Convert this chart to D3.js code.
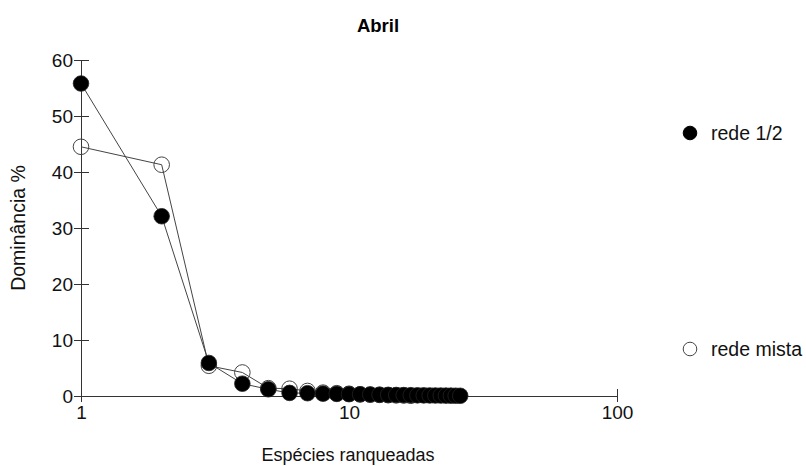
<!DOCTYPE html>
<html><head><meta charset="utf-8">
<script src="https://cdn.jsdelivr.net/npm/d3@7"></script>
<style>body{margin:0;background:#fff}svg{display:block;font-family:"Liberation Sans",Arial,sans-serif}</style>
</head><body>
<svg id="c" width="806" height="466"></svg>
<script>
const title = "Abril";
const xLabel = "Espécies ranqueadas";
const yLabel = "Dominância %";
const seriesNames = ["rede 1/2", "rede mista"];
const rede12 = [55.8, 32.1, 5.9, 2.2, 1.2, 0.55, 0.5, 0.42, 0.38, 0.33, 0.3, 0.26, 0.23, 0.2, 0.18, 0.16, 0.14, 0.12, 0.11, 0.1, 0.09, 0.08, 0.07, 0.06, 0.05, 0.04];
const redeMista = [44.5, 41.3, 5.4, 4.2, 1.4, 1.3, 0.9, 0.6, 0.5, 0.4, 0.3, 0.25, 0.2, 0.15, 0.12, 0.1, 0.05];
const xTicks = [1, 10, 100];
const yTicks = [0, 10, 20, 30, 40, 50, 60];

const svg = d3.select("#c");
const x = d3.scaleLog().domain([1, 100]).range([81, 617]);
const y = d3.scaleLinear().domain([0, 60]).range([396, 60]);
const axisColor = "#333";

svg.append("text").attr("x", 378).attr("y", 32).attr("text-anchor", "middle")
  .attr("font-weight", "bold").attr("font-size", 18.5).text(title);

// Y axis
const ya = svg.append("g").attr("transform", "translate(81,0)")
  .call(d3.axisLeft(y).tickValues(yTicks).tickSize(0).tickPadding(8));
ya.select(".domain").attr("stroke", axisColor);
ya.selectAll(".tick text").attr("font-size", 19).attr("fill", "#111").attr("font-family", "Liberation Sans, Arial, sans-serif");
ya.selectAll(".tick").append("line").attr("x1", -7).attr("x2", 8).attr("stroke", axisColor);

// X axis
const xa = svg.append("g").attr("transform", "translate(0,396)")
  .call(d3.axisBottom(x).tickValues(xTicks).tickFormat(d3.format("d")).tickSize(0).tickPadding(10));
xa.select(".domain").attr("stroke", axisColor);
xa.selectAll(".tick text").attr("font-size", 19).attr("fill", "#111").attr("font-family", "Liberation Sans, Arial, sans-serif");
xa.selectAll(".tick").append("line").attr("y1", -7).attr("y2", 6).attr("stroke", axisColor);

svg.append("text").attr("x", 348).attr("y", 461).attr("text-anchor", "middle")
  .attr("font-size", 18).attr("fill", "#111").text(xLabel);
svg.append("text").attr("transform", "translate(25,228) rotate(-90)").attr("text-anchor", "middle")
  .attr("font-size", 19.5).attr("fill", "#111").text(yLabel);

const line = d3.line().x((d, i) => x(i + 1)).y(d => y(d));
const r = 7.8;

// rede mista (open)
svg.append("path").datum(redeMista).attr("d", line).attr("fill", "none").attr("stroke", "#444").attr("stroke-width", 1);
svg.append("g").selectAll("circle").data(redeMista).join("circle")
  .attr("cx", (d, i) => x(i + 1)).attr("cy", d => y(d)).attr("r", r)
  .attr("fill", "none").attr("stroke", "#444").attr("stroke-width", 1);

// rede 1/2 (filled)
svg.append("path").datum(rede12).attr("d", line).attr("fill", "none").attr("stroke", "#444").attr("stroke-width", 1);
svg.append("g").selectAll("circle").data(rede12).join("circle")
  .attr("cx", (d, i) => x(i + 1)).attr("cy", d => y(d)).attr("r", r)
  .attr("fill", "#000").attr("stroke", "#222").attr("stroke-width", 0.8);

// Legend
const leg = [{name: seriesNames[0], y: 133, filled: true}, {name: seriesNames[1], y: 349, filled: false}];
const lg = svg.append("g").selectAll("g").data(leg).join("g");
lg.append("circle").attr("cx", 690).attr("cy", d => d.y).attr("r", 6.8)
  .attr("fill", d => d.filled ? "#000" : "none").attr("stroke", d => d.filled ? "#000" : "#444");
lg.append("text").attr("x", 711).attr("y", d => d.y + 7).attr("font-size", 19.5).attr("fill", "#111").text(d => d.name);
</script>
</body></html>
